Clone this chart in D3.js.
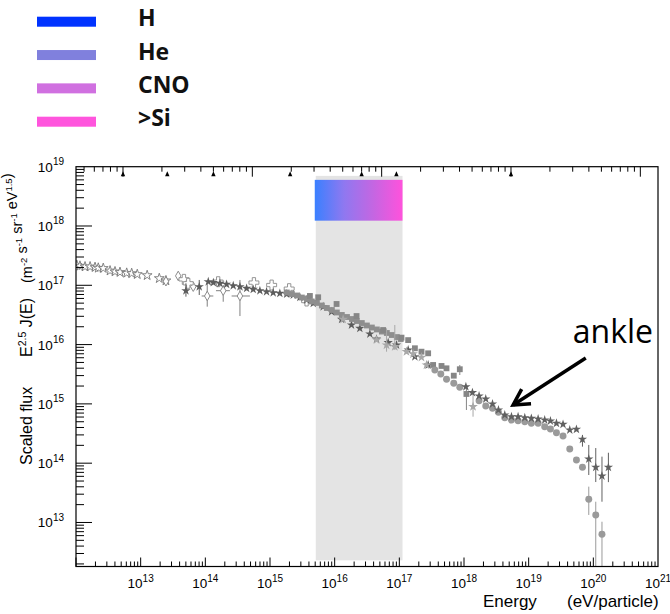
<!DOCTYPE html>
<html><head><meta charset="utf-8">
<script src="https://cdn.jsdelivr.net/npm/d3@7"></script>
<style>body{margin:0;background:#fff}svg{display:block}</style>
</head><body>
<svg id="c" width="670" height="614"></svg>
<script>
// ---------------- data (energy in eV, scaled flux E^2.5 J(E)) ----------------
const openStarE = [1.03e12,1.15e12,1.38e12,1.65e12,1.97e12,2.21e12,2.64e12,3.36e12,4.01e12,4.79e12,6.08e12,7.26e12,8.86e12,1.26e13,1.94e13,2.46e13];
const openStarF = [2.18e17,2.12e17,2.06e17,2.06e17,2.01e17,1.96e17,1.94e17,1.76e17,1.70e17,1.66e17,1.61e17,1.59e17,1.53e17,1.47e17,1.31e17,1.20e17];

const openDiamondE  = [2.46e13,3.81e13,6.50e13,1.07e14,1.89e14,3.43e14];
const openDiamondF  = [1.17e17,1.44e17,9.47e16,6.60e16,8.11e16,6.60e16];
const openDiamondLo = [null,null,null,4.36e16,5.28e16,3.03e16];
const openDiamondHi = [null,null,null,1.08e17,1.01e17,1.23e17];
const openDiamondXLo = [null,null,null,8.77e13,1.46e14,2.55e14];
const openDiamondXHi = [null,null,null,1.33e14,2.40e14,4.89e14];

const openCrossE = [4.67e13,5.44e13,1.58e14,5.64e14,1.06e15,1.98e15,3.68e15];
const openCrossF = [1.26e17,1.08e17,1.15e17,1.11e17,1.01e17,8.77e16,5.43e16];

const darkStarE = [5.01e13,8.05e13,1.11e14,1.33e14,1.68e14,2.13e14,2.70e14,3.43e14,4.35e14,5.50e14,6.98e14,8.85e14,1.12e15,1.42e15,1.81e15,2.29e15,2.90e15,3.68e15,4.66e15,6.64e15,8.96e15,1.28e16,1.82e16,2.45e16,3.50e16,4.44e16,6.72e16,9.05e16,1.37e17,1.74e17,2.79e17];
const darkStarF = [8.11e16,9.47e16,1.15e17,1.11e17,1.08e17,1.04e17,9.84e16,9.47e16,8.89e16,8.56e16,8.11e16,7.80e16,7.50e16,7.32e16,7.13e16,6.86e16,6.28e16,5.65e16,4.97e16,4.36e16,3.59e16,2.67e16,2.14e16,1.88e16,1.51e16,1.24e16,1.08e16,9.85e15,8.11e15,6.25e15,4.53e15];
const darkStarLo = [6.43e16,6.86e16];
const darkStarHi = [1.08e17,1.23e17];

const bandE = [1.82e15,2.18e15,2.61e15,3.11e15,3.72e15,4.44e15,5.31e15,6.34e15,7.57e15,9.06e15,1.08e16,1.29e16,1.55e16,1.85e16,2.20e16,2.63e16,3.15e16,3.76e16,4.49e16,5.37e16,6.41e16,7.66e16,9.15e16,1.05e17];
const bandF = [7.56e16,7.13e16,6.73e16,6.22e16,5.87e16,5.33e16,5.04e16,4.56e16,4.14e16,3.83e16,3.48e16,3.16e16,2.92e16,2.70e16,2.50e16,2.31e16,2.10e16,1.94e16,1.80e16,1.66e16,1.57e16,1.45e16,1.34e16,1.24e16];

const squareE  = [4.14e15,5.56e15,1.07e16,2.18e16,5.62e16,1.08e17,1.37e17,1.74e17,2.20e17,2.79e17,3.33e17,4.49e17,5.36e17,6.95e17,8.61e17,1.09e18];
const squareF  = [6.61e16,6.28e16,4.84e16,3.03e16,1.76e16,1.31e16,1.19e16,8.67e15,7.59e15,7.13e15,4.53e15,4.36e15,3.98e15,2.99e15,3.84e15,1.47e15];
const squareLo = [null,null,null,null,null,null,null,null,null,null,null,null,null,null,3.07e15,7.89e14];
const squareHi = [null,null,null,null,null,null,null,null,null,null,null,null,null,null,4.53e15,1.95e15];

const lightStarE  = [1.35e16,4.44e16,6.34e16,8.51e16,1.29e17,1.63e17,2.20e17,2.63e17,1.38e18];
const lightStarF  = [2.67e16,1.20e16,9.85e15,9.23e15,7.59e15,6.95e15,6.11e15,4.53e15,8.97e14];
const lightStarLo = [null,null,7.59e15,8.11e15,null,null,null,null,6.08e14];
const lightStarHi = [null,null,1.88e16,2.14e16,null,null,null,null,1.51e15];

const augerE  = [3.54e17,4.38e17,5.37e17,6.95e17,8.61e17,1.71e18,2.17e18,2.76e18,3.41e18,4.27e18,5.42e18,6.86e18,8.71e18,1.10e19,1.40e19,1.77e19,2.17e19,2.69e19,3.40e19,4.32e19,5.48e19,6.79e19,8.50e19,1.09e20,1.36e20];
const augerF  = [3.73e15,3.19e15,2.60e15,2.22e15,1.91e15,1.13e15,9.23e14,8.43e14,7.22e14,5.85e14,5.35e14,5.21e14,5.01e14,4.71e14,4.71e14,4.12e14,3.77e14,3.27e14,2.88e14,1.73e14,1.13e14,8.53e13,2.46e13,1.34e13,6.32e12];
const augerLo = [null,null,null,null,null,null,null,null,null,null,null,null,null,null,null,null,null,null,null,null,null,null,1.34e13,1.0e12,1.0e12];
const augerHi = [null,null,null,null,null,null,null,null,null,null,null,null,null,null,null,null,null,null,null,null,null,null,4.02e13,2.24e13,1.03e13];

const taE  = [1.07e18,1.35e18,1.71e18,2.17e18,2.76e18,3.41e18,4.27e18,5.42e18,6.86e18,8.71e18,1.10e19,1.40e19,1.77e19,2.17e19,2.69e19,3.40e19,4.32e19,5.48e19,6.79e19,8.50e19,1.09e20,1.36e20,1.71e20];
const taF  = [1.95e15,1.55e15,1.36e15,1.21e15,9.96e14,7.89e14,6.50e14,6.08e14,6.08e14,5.85e14,5.71e14,5.56e14,5.35e14,5.15e14,4.71e14,4.53e14,3.64e14,3.73e14,2.53e14,1.18e14,8.53e13,6.08e13,8.53e13];
const taLo = [null,null,null,null,null,null,null,null,null,null,null,null,null,null,null,null,null,null,1.90e14,6.32e13,4.81e13,2.24e13,4.79e13];
const taHi = [null,null,null,null,null,null,null,null,null,null,null,null,null,null,null,null,null,null,2.99e14,2.03e14,1.80e14,1.29e14,1.50e14];

// knee region & composition bar
const kneeE = [5.1e15, 1.12e17];
const kneeF = [2.3e12, 7.0e18];
const barF  = [1.23e18, 6.0e18];

// legend
const legendLabels = ["H", "He", "CNO", ">Si"];
const legendColors = ["#0033ff", "#8080dd", "#d070e0", "#ff55dd"];
const gradientColors = ["#3a80ff", "#8f78f0", "#c466e2", "#ff52dc"];

// axes
const xTickExp = [13,14,15,16,17,18,19,20,21];
const yTickExp = [13,14,15,16,17,18,19];
const colliderSqrtS = [1.0e11, 2.2e11, 5.0e11, 1.96e12, 7.0e12, 1.3e13, 1.0e14];
const protonMass = 0.938e9;

// annotation
const ankleText = "ankle";
const ankleTextAt = [4.81e19, 1.06e16];
const ankleArrowFrom = [7.64e19, 5.94e15];
const ankleArrowTo = [5.74e18, 9.58e14];

// ---------------- drawing ----------------
const svg = d3.select("#c");
const L = 76, R = 658, T = 166.7, B = 566.5;
const x = d3.scaleLog().domain([1e12, 1e21]).range([L, R]);
const y = d3.scaleLog().domain([1.81e12, 1e19]).range([B, T]);
const sqrtS = E => Math.sqrt(2 * protonMass * E);
const xTop = d3.scaleLog().domain([sqrtS(1e12), sqrtS(1e21)]).range([L, R]);

const defs = svg.append("defs");
const grad = defs.append("linearGradient").attr("id", "kg").attr("x1", "0").attr("x2", "1").attr("y1", "0").attr("y2", "0");
gradientColors.forEach((c, i) => grad.append("stop").attr("offset", i / (gradientColors.length - 1)).attr("stop-color", c));
defs.append("clipPath").attr("id", "plotclip").append("rect").attr("x", L).attr("y", T).attr("width", R - L).attr("height", B - T);

// legend
const ly = d3.scalePoint().domain(legendLabels).range([21.7, 121.7]);
const lg = svg.append("g");
lg.selectAll("rect").data(legendLabels).join("rect")
  .attr("x", 37).attr("width", 59).attr("height", 10)
  .attr("y", d => ly(d) - 5).attr("fill", (d, i) => legendColors[i]);
lg.selectAll("text").data(legendLabels).join("text")
  .attr("x", 138).attr("y", d => ly(d) + 4.6)
  .attr("font-family", "'Open Sans', sans-serif").attr("font-weight", 700).attr("font-size", 23)
  .attr("fill", "#111").text(d => d);

// knee shaded region
svg.append("rect")
  .attr("x", x(kneeE[0])).attr("width", x(kneeE[1]) - x(kneeE[0]))
  .attr("y", y(kneeF[1])).attr("height", y(kneeF[0]) - y(kneeF[1]))
  .attr("fill", "#e4e4e4");
svg.append("rect")
  .attr("x", x(kneeE[0]) - 1).attr("width", x(kneeE[1]) - x(kneeE[0]) + 1)
  .attr("y", y(barF[1])).attr("height", y(barF[0]) - y(barF[1]))
  .attr("fill", "url(#kg)");

// data series
const series = [
  {E: openStarE, F: openStarF, sym: d3.symbolStar, size: 30, fill: "#fff", stroke: "#777"},
  {E: openDiamondE, F: openDiamondF, lo: openDiamondLo, hi: openDiamondHi, xlo: openDiamondXLo, xhi: openDiamondXHi, sym: d3.symbolDiamond, size: 26, fill: "#fff", stroke: "#808080"},
  {E: openCrossE, F: openCrossF, sym: d3.symbolCross, size: 55, fill: "#fff", stroke: "#8a8a8a"},
  {E: darkStarE, F: darkStarF, lo: darkStarLo, hi: darkStarHi, sym: d3.symbolStar, size: 27, fill: "#5c5c5c", stroke: "none"},
  {E: bandE, F: bandF, sym: d3.symbolSquare, size: 34, fill: "#8e8e8e", stroke: "none"},
  {E: squareE, F: squareF, lo: squareLo, hi: squareHi, sym: d3.symbolSquare, size: 34, fill: "#868686", stroke: "none"},
  {E: lightStarE, F: lightStarF, lo: lightStarLo, hi: lightStarHi, sym: d3.symbolStar, size: 30, fill: "#a8a8a8", stroke: "none"},
  {E: augerE, F: augerF, lo: augerLo, hi: augerHi, sym: d3.symbolCircle, size: 38, fill: "#9a9a9a", stroke: "none"},
  {E: taE, F: taF, lo: taLo, hi: taHi, sym: d3.symbolStar, size: 27, fill: "#606060", stroke: "none"}
];
const dg = svg.append("g").attr("clip-path", "url(#plotclip)");
series.forEach(s => {
  const pts = s.E.map((e, i) => ({e, f: s.F[i], lo: s.lo ? s.lo[i] : null, hi: s.hi ? s.hi[i] : null,
    xlo: s.xlo ? s.xlo[i] : null, xhi: s.xhi ? s.xhi[i] : null}));
  const col = s.stroke !== "none" ? s.stroke : s.fill;
  dg.append("g").selectAll("line").data(pts.filter(p => p.lo != null)).join("line")
    .attr("x1", p => x(p.e)).attr("x2", p => x(p.e))
    .attr("y1", p => y(p.lo)).attr("y2", p => y(p.hi))
    .attr("stroke", col).attr("stroke-width", 1);
  dg.append("g").selectAll("line").data(pts.filter(p => p.xlo != null)).join("line")
    .attr("x1", p => x(p.xlo)).attr("x2", p => x(p.xhi))
    .attr("y1", p => y(p.f)).attr("y2", p => y(p.f))
    .attr("stroke", col).attr("stroke-width", 1);
  dg.append("g").selectAll("path").data(pts).join("path")
    .attr("d", d3.symbol().type(s.sym).size(s.size))
    .attr("transform", p => `translate(${x(p.e)},${y(p.f)})`)
    .attr("fill", s.fill).attr("stroke", s.stroke).attr("stroke-width", 0.9);
});

// frame
svg.append("rect").attr("x", L).attr("y", T).attr("width", R - L).attr("height", B - T)
  .attr("fill", "none").attr("stroke", "#000").attr("stroke-width", 1.2);

const ax = svg.append("g").attr("stroke", "#000").attr("stroke-width", 1);
// bottom axis ticks
for (let n = 12; n <= 20; n++) for (let k = 1; k <= 9; k++) {
  const v = k * Math.pow(10, n); if (v < 1e12 || v > 1e21) continue;
  const px = x(v), len = k === 1 ? 9 : 5;
  ax.append("line").attr("x1", px).attr("x2", px).attr("y1", B).attr("y2", B - len);
}
// left axis ticks
for (let n = 12; n <= 18; n++) for (let k = 1; k <= 9; k++) {
  const v = k * Math.pow(10, n); if (v < 1.81e12 || v > 1e19) continue;
  const py = y(v), len = k === 1 ? 16 : 8;
  ax.append("line").attr("x1", L).attr("x2", L + len).attr("y1", py).attr("y2", py);
}
// top axis (sqrt(s)) ticks
const tdom = xTop.domain();
for (let n = 10; n <= 15; n++) for (let k = 1; k <= 9; k++) {
  const v = k * Math.pow(10, n); if (v < tdom[0] || v > tdom[1]) continue;
  const px = xTop(v), len = k === 1 ? 10 : 5;
  ax.append("line").attr("x1", px).attr("x2", px).attr("y1", T).attr("y2", T + len);
}
svg.append("g").selectAll("path").data(colliderSqrtS).join("path")
  .attr("d", v => { const px = xTop(v); return `M${px},${T + 4.5}L${px + 2.2},${T + 9.5}L${px - 2.2},${T + 9.5}Z`; })
  .attr("fill", "#000");

// tick labels
const tf = "'Liberation Sans', Arial, sans-serif";
const xl = svg.append("g").attr("font-family", tf).attr("fill", "#000");
xTickExp.forEach(e => {
  const t = xl.append("text").attr("x", x(Math.pow(10, e))).attr("y", 588).attr("text-anchor", "middle").attr("font-size", 13.5);
  t.append("tspan").text("10");
  t.append("tspan").attr("font-size", 10).attr("dy", -6.5).text(e);
});
const yl = svg.append("g").attr("font-family", tf).attr("fill", "#000");
yTickExp.forEach(e => {
  const t = yl.append("text").attr("x", 64).attr("y", y(Math.pow(10, e)) + 5).attr("text-anchor", "end").attr("font-size", 13.5);
  t.append("tspan").text("10");
  t.append("tspan").attr("font-size", 10).attr("dy", -6.5).text(e);
});

// axis titles
const xt = svg.append("g").attr("font-family", tf).attr("font-size", 17).attr("fill", "#000");
xt.append("text").attr("x", 483).attr("y", 606.5).text("Energy");
xt.append("text").attr("x", 567).attr("y", 606.5).text("(eV/particle)");

const yt = svg.append("g").attr("transform", "translate(32,0) rotate(-90)")
  .attr("font-family", tf).attr("font-size", 16).attr("fill", "#000");
yt.append("text").attr("x", -465).attr("y", 0).text("Scaled flux");
const t2 = yt.append("text").attr("x", -357).attr("y", 0);
t2.append("tspan").text("E");
t2.append("tspan").attr("font-size", 10.5).attr("dy", -6).text("2.5");
t2.append("tspan").attr("dy", 6).text(" J(E)");
const t3 = yt.append("text").attr("x", -283).attr("y", 0).attr("font-size", 14.5);
[["(m", "-2"], [" s", "-1"], [" sr", "-1"], [" eV", "1.5"]].forEach(([b, s]) => {
  t3.append("tspan").attr("dy", 0).text(b);
  t3.append("tspan").attr("font-size", 9.5).attr("dy", -5).text(s);
  t3.append("tspan").attr("dy", 5).text("");
});
t3.append("tspan").text(")");

// ankle annotation
svg.append("text").attr("x", x(ankleTextAt[0])).attr("y", y(ankleTextAt[1]))
  .attr("font-family", "'Open Sans', sans-serif").attr("font-size", 32).attr("fill", "#000").text(ankleText);
const ax0 = x(ankleArrowFrom[0]), ay0 = y(ankleArrowFrom[1]), ax1 = x(ankleArrowTo[0]), ay1 = y(ankleArrowTo[1]);
const ang = Math.atan2(ay1 - ay0, ax1 - ax0), hl = 18, ha = 0.5;
svg.append("line").attr("x1", ax0).attr("y1", ay0).attr("x2", ax1).attr("y2", ay1)
  .attr("stroke", "#000").attr("stroke-width", 3.5);
svg.append("path")
  .attr("d", `M${ax1 - hl * Math.cos(ang - ha)},${ay1 - hl * Math.sin(ang - ha)}L${ax1},${ay1}L${ax1 - hl * Math.cos(ang + ha)},${ay1 - hl * Math.sin(ang + ha)}`)
  .attr("fill", "none").attr("stroke", "#000").attr("stroke-width", 3.5).attr("stroke-linejoin", "miter");
</script>
</body></html>
